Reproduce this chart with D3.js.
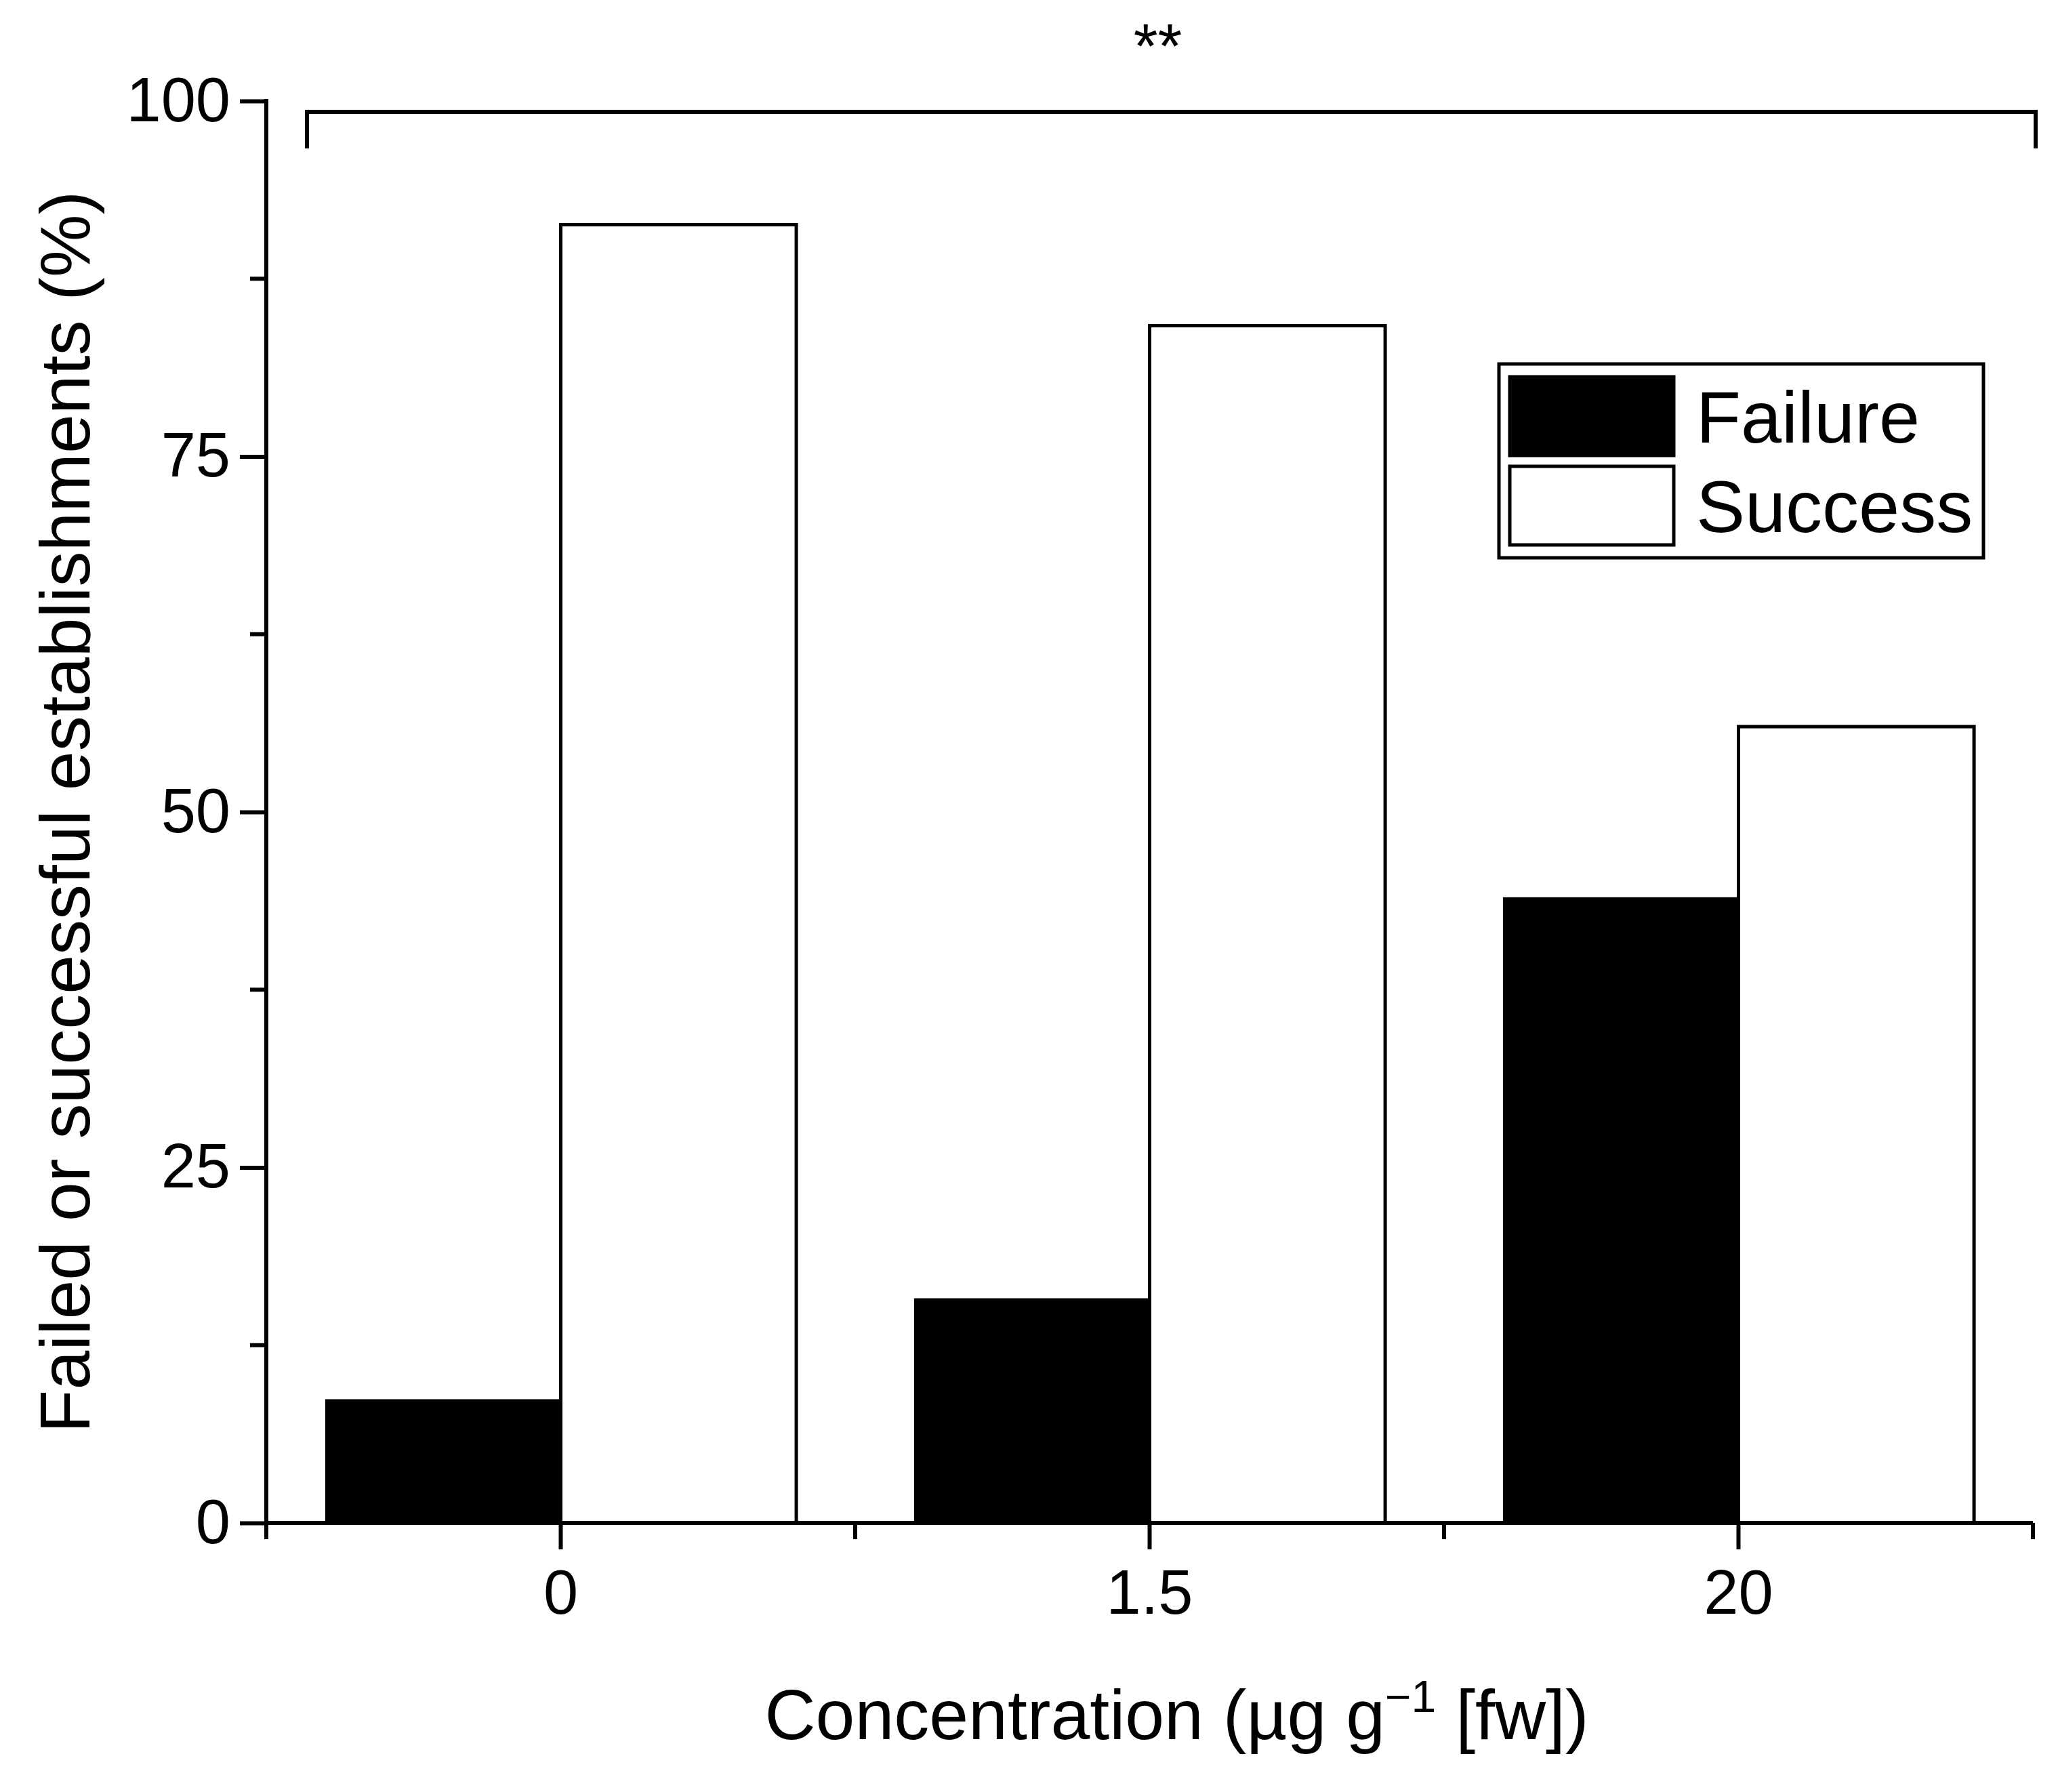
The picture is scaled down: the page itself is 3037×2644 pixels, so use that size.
<!DOCTYPE html>
<html><head><meta charset="utf-8">
<script src="https://cdn.jsdelivr.net/npm/d3@7"></script>
<style>body{margin:0;background:#fff}</style></head>
<body><script>
const categories = ["0", "1.5", "20"];
const failure = [8.7, 15.8, 44.0];
const success = [91.3, 84.2, 56.0];
const yTicks = [0, 25, 50, 75, 100];
const yMinor = [12.5, 37.5, 62.5, 87.5];
const seriesNames = ["Failure", "Success"];

const W = 3037, H = 2644;
const svg = d3.select("body").append("svg").attr("width", W).attr("height", H)
  .style("font-family", "Arial, 'Liberation Sans', sans-serif");
const L = 393, R = 3000, T = 149, B = 2247;
const x = d3.scaleBand().domain(categories).range([L, R]).paddingInner(0).paddingOuter(0);
const bw = x.bandwidth();
const y = d3.scaleLinear().domain([0, 100]).range([B, T]);
const sw = 6;

// bars
const g = svg.append("g");
categories.forEach((c, i) => {
  const cx = x(c) + bw / 2;
  g.append("rect").attr("x", cx - bw * 0.4).attr("y", y(failure[i]))
    .attr("width", bw * 0.4).attr("height", B - y(failure[i])).attr("fill", "#000");
  g.append("rect").attr("x", cx).attr("y", y(success[i]))
    .attr("width", bw * 0.4).attr("height", B - y(success[i]))
    .attr("fill", "#fff").attr("stroke", "#000").attr("stroke-width", 5);
});

// y axis
const ya = svg.append("g").attr("transform", `translate(${L},0)`)
  .call(d3.axisLeft(y).tickValues(yTicks).tickSize(39).tickPadding(14).tickFormat(d3.format("d")));
ya.select(".domain").attr("d", `M0,${B}V${T - 3}`).attr("stroke-width", sw);
ya.selectAll(".tick line").attr("stroke-width", sw);
ya.selectAll("text").attr("font-size", 92).attr("font-family", "Arial, 'Liberation Sans', sans-serif");
ya.selectAll(".minor").data(yMinor).enter().append("line")
  .attr("x1", 0).attr("x2", -24).attr("y1", d => y(d)).attr("y2", d => y(d))
  .attr("stroke", "#000").attr("stroke-width", sw);

// x axis
const xa = svg.append("g").attr("transform", `translate(0,${B})`)
  .call(d3.axisBottom(x).tickSize(39).tickPadding(30));
xa.select(".domain").attr("d", `M${L - 3},0H${R}`).attr("stroke-width", sw);
xa.selectAll(".tick line").attr("stroke-width", sw);
xa.selectAll("text").attr("font-size", 92).attr("font-family", "Arial, 'Liberation Sans', sans-serif");
const bounds = [L, ...categories.slice(1).map(c => x(c)), R];
xa.selectAll(".minor").data(bounds).enter().append("line")
  .attr("x1", d => d).attr("x2", d => d).attr("y1", 0).attr("y2", 24)
  .attr("stroke", "#000").attr("stroke-width", sw);

// axis titles
svg.append("text").attr("transform", `translate(132,${(T + B) / 2}) rotate(-90)`)
  .attr("text-anchor", "middle").attr("font-size", 104).text("Failed or successful establishments (%)");
const xt = svg.append("text").attr("x", (L + R) / 2 + 40).attr("y", 2566)
  .attr("text-anchor", "middle").attr("font-size", 104);
xt.append("tspan").text("Concentration (µg g");
xt.append("tspan").attr("dy", -40).attr("font-size", 66).text("−1");
xt.append("tspan").attr("dy", 40).text(" [fw])");

// significance bracket
const bx1 = 453, bx2 = 3004, by = 165;
svg.append("path").attr("d", `M${bx1},219V${by}H${bx2}V219`)
  .attr("fill", "none").attr("stroke", "#000").attr("stroke-width", sw);
svg.append("text").attr("x", (bx1 + bx2) / 2 - 20).attr("y", 100).attr("text-anchor", "middle")
  .attr("font-size", 92).text("**");

// legend
const lg = svg.append("g");
lg.append("rect").attr("x", 2212).attr("y", 537).attr("width", 715).attr("height", 286)
  .attr("fill", "#fff").attr("stroke", "#000").attr("stroke-width", 5);
seriesNames.forEach((n, i) => {
  const yy = 556 + i * 132;
  lg.append("rect").attr("x", 2228).attr("y", yy).attr("width", 242).attr("height", 116)
    .attr("fill", i === 0 ? "#000" : "#fff").attr("stroke", "#000").attr("stroke-width", 5);
  lg.append("text").attr("x", 2503).attr("y", yy + 58).attr("dy", "0.36em")
    .attr("font-size", 108).text(n);
});
</script></body></html>
